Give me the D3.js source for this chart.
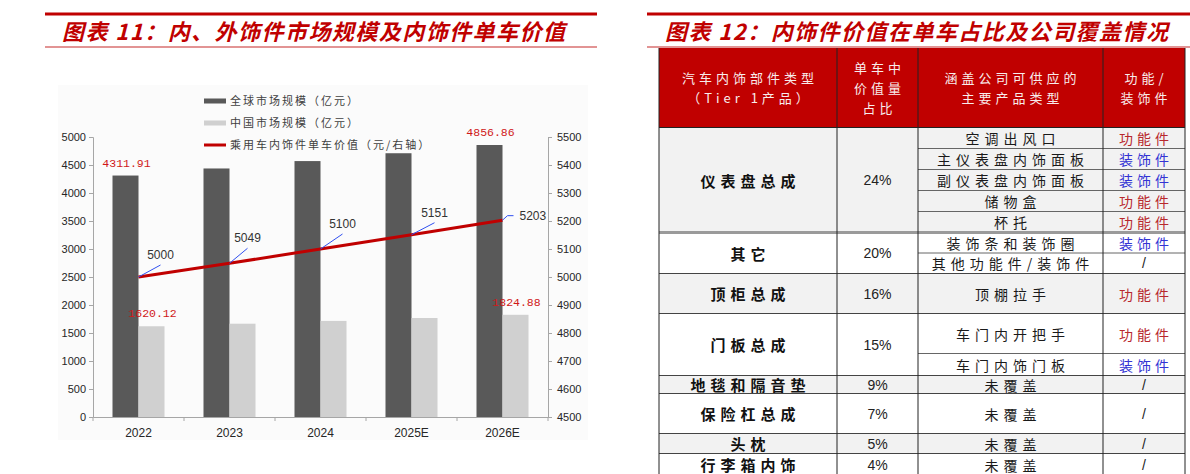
<!DOCTYPE html>
<meta charset="utf-8">
<style>
body { margin: 0; background: #fff; }
svg { display: block; }
.cjk { font-family: "Noto Sans CJK SC", sans-serif; }
.num { font-family: "Liberation Sans", Arial, sans-serif; }
.axis text { font-family: "Liberation Sans", Arial, sans-serif; font-size: 11px; fill: #262626; }
.axis--x text { font-size: 12px; }
.axis path, .axis line { stroke: #a6a6a6; stroke-width: 1px; }
.title { font-family: "Noto Sans CJK SC", sans-serif; font-weight: 700; font-style: italic; font-size: 22px; fill: #c00000; }
</style>
<svg width="1190" height="474"></svg>
<script src="https://cdn.jsdelivr.net/npm/d3@7"></script>
<script>
// ---- chart data (图表11) ----
var years = ["2022", "2023", "2024", "2025E", "2026E"];
var globalMarket = [4311.91, 4438, 4570, 4710, 4856.86];
var chinaMarket = [1620.12, 1666, 1716, 1768, 1824.88];
var unitValue = [5000, 5049, 5100, 5151, 5203];
var leftTicks = [0, 500, 1000, 1500, 2000, 2500, 3000, 3500, 4000, 4500, 5000];
var rightTicks = [4500, 4600, 4700, 4800, 4900, 5000, 5100, 5200, 5300, 5400, 5500];
var labelledYears = ["2022", "2026E"];
var legendNames = ["全球市场规模（亿元）", "中国市场规模（亿元）", "乘用车内饰件单车价值（元/右轴）"];

// ---- table data (图表12) ----
var headCols = [
  ["汽车内饰部件类型", "（Tier 1产品）"],
  ["单车中", "价值量", "占比"],
  ["涵盖公司可供应的", "主要产品类型"],
  ["功能/", "装饰件"]
];
var parts = ["仪表盘总成", "其它", "顶柜总成", "门板总成", "地毯和隔音垫", "保险杠总成", "头枕", "行李箱内饰"];
var shares = ["24%", "20%", "16%", "15%", "9%", "7%", "5%", "4%"];
var products = [
  ["空调出风口", "主仪表盘内饰面板", "副仪表盘内饰面板", "储物盒", "杯托"],
  ["装饰条和装饰圈", "其他功能件/装饰件"],
  ["顶棚拉手"],
  ["车门内开把手", "车门内饰门板"],
  ["未覆盖"], ["未覆盖"], ["未覆盖"], ["未覆盖"]
];
var kinds = [
  ["功能件", "装饰件", "装饰件", "功能件", "功能件"],
  ["装饰件", "/"],
  ["功能件"],
  ["功能件", "装饰件"],
  ["/"], ["/"], ["/"], ["/"]
];

// ---- layout ----
var subRowHeights = [[21, 21, 21, 21, 21], [20.5, 20.5], [40], [40, 22], [18], [40], [20], [22]];
var colEdges = [659, 837, 918, 1103, 1185];
var kindColor = {"功能件": "#b8282d", "装饰件": "#3434d4", "/": "#222"};

var svg = d3.select("svg");

// title bars
function titleBlock(x0, x1, tx, text) {
  svg.append("line").attr("x1", x0).attr("x2", x1).attr("y1", 14).attr("y2", 14)
      .attr("stroke", "#c00000").attr("stroke-width", 2.8);
  svg.append("line").attr("x1", x0).attr("x2", x1).attr("y1", 47).attr("y2", 47)
      .attr("stroke", "#d87070").attr("stroke-width", 1.5);
  svg.append("text").attr("class", "title").attr("x", tx).attr("y", 40)
      .attr("textLength", 503).attr("lengthAdjust", "spacing").text(text);
}
titleBlock(45, 597, 62, "图表 11：内、外饰件市场规模及内饰件单车价值");
titleBlock(647, 1190, 665, "图表 12：内饰件价值在单车占比及公司覆盖情况");

// ================= chart =================
var plot = {left: 93, right: 548, top: 137, bottom: 417};

svg.append("rect").attr("x", 58).attr("y", 85).attr("width", 530).attr("height", 355)
    .attr("fill", "#fbfbfb");

var x = d3.scaleBand().domain(years).range([plot.left, plot.right]);
var xs = d3.scaleBand().domain(["global", "china"]).range([0, x.bandwidth()])
    .paddingInner(0).paddingOuter(0.75);
var yL = d3.scaleLinear().domain([0, 5000]).range([plot.bottom, plot.top]);
var yR = d3.scaleLinear().domain([4500, 5500]).range([plot.bottom, plot.top]);

var series = [
  {key: "global", values: globalMarket, color: "#595959"},
  {key: "china", values: chinaMarket, color: "#d0d0d0"}
];

series.forEach(function(s) {
  svg.append("g").selectAll("rect")
    .data(s.values)
    .enter().append("rect")
      .attr("x", function(d, i) { return x(years[i]) + xs(s.key); })
      .attr("y", function(d) { return yL(d); })
      .attr("width", xs.bandwidth())
      .attr("height", function(d) { return yL(0) - yL(d); })
      .attr("fill", s.color);

  // red value labels on first and last year
  svg.append("g").selectAll("text")
    .data(s.values.filter(function(d, i) { return labelledYears.indexOf(years[i]) >= 0; }))
    .enter().append("text")
      .attr("x", function(d) {
        var i = s.values.indexOf(d);
        return x(years[i]) + xs(s.key) + xs.bandwidth() / 2 + 1;
      })
      .attr("y", function(d) { return yL(d) - 9; })
      .attr("text-anchor", "middle")
      .attr("font-family", "Liberation Mono, monospace")
      .attr("font-size", 11.5)
      .attr("fill", "#d01818")
      .text(function(d) { return d.toFixed(2); });
});

// axes
svg.append("g").attr("class", "axis")
    .attr("transform", "translate(" + plot.left + ",0)")
    .call(d3.axisLeft(yL).tickValues(leftTicks).tickSize(4).tickPadding(3).tickFormat(d3.format("d")));

svg.append("g").attr("class", "axis")
    .attr("transform", "translate(" + plot.right + ",0)")
    .call(d3.axisRight(yR).tickValues(rightTicks).tickSize(4).tickPadding(5).tickFormat(d3.format("d")));

var xAxis = svg.append("g").attr("class", "axis axis--x")
    .attr("transform", "translate(0," + plot.bottom + ")")
    .call(d3.axisBottom(x).tickSize(0).tickSizeOuter(0).tickPadding(11));
xAxis.selectAll(".boundary")
  .data(d3.range(years.length + 1))
  .enter().append("line")
    .attr("class", "boundary")
    .attr("x1", function(i) { return plot.left + i * x.step(); })
    .attr("x2", function(i) { return plot.left + i * x.step(); })
    .attr("y1", 0).attr("y2", 4);

// line on right axis
var line = d3.line()
    .x(function(d, i) { return x(years[i]) + x.bandwidth() / 2; })
    .y(function(d) { return yR(d); });

svg.append("path").datum(unitValue)
    .attr("d", line)
    .attr("fill", "none")
    .attr("stroke", "#c00000")
    .attr("stroke-width", 3);

// leader lines and value labels for the line
var labelOffsets = [[22, -22], [18, -25], [22, -25], [23, -22]];
var lbl = svg.append("g");
unitValue.forEach(function(v, i) {
  var px = x(years[i]) + x.bandwidth() / 2, py = yR(v);
  if (i < labelOffsets.length) {
    var o = labelOffsets[i];
    lbl.append("line").attr("x1", px).attr("y1", py).attr("x2", px + o[0]).attr("y2", py + o[1] + 10)
        .attr("stroke", "#3050f0").attr("stroke-width", 1);
    lbl.append("text").attr("class", "num").attr("x", px + o[0]).attr("y", py + o[1] + 4)
        .attr("text-anchor", "middle").attr("font-size", 12).attr("fill", "#333").text(v);
  } else {
    lbl.append("path").attr("d", "M" + px + "," + py + "l5,-4.5h6")
        .attr("fill", "none").attr("stroke", "#3050f0").attr("stroke-width", 1);
    lbl.append("text").attr("class", "num").attr("x", px + 17).attr("y", py)
        .attr("font-size", 12).attr("fill", "#333").text(v);
  }
});

// legend
var legend = svg.append("g").attr("transform", "translate(204,0)");
legendNames.forEach(function(name, i) {
  var ly = 101 + i * 22;
  if (i < 2) {
    legend.append("rect").attr("x", 0).attr("y", ly - 2.5).attr("width", 22).attr("height", 5)
        .attr("fill", series[i].color);
  } else {
    legend.append("line").attr("x1", 0).attr("x2", 22).attr("y1", ly).attr("y2", ly)
        .attr("stroke", "#c00000").attr("stroke-width", 3);
  }
  legend.append("text").attr("class", "cjk").attr("x", 26).attr("y", ly + 4)
      .attr("font-size", 11).attr("letter-spacing", 2).attr("fill", "#404040").text(name);
});

// ================= table =================
var tbl = svg.append("g");
var headTop = 48, headBottom = 127.5, tableBottom = 474;
var colMid = function(c) { return (colEdges[c] + colEdges[c + 1]) / 2; };

tbl.append("rect").attr("x", colEdges[0]).attr("y", headTop)
    .attr("width", colEdges[4] - colEdges[0]).attr("height", headBottom - headTop)
    .attr("fill", "#c00000");

headCols.forEach(function(lines, c) {
  var cy = (headTop + headBottom) / 2;
  lines.forEach(function(t, k) {
    tbl.append("text").attr("class", "cjk")
        .attr("x", colMid(c) + 2).attr("y", cy + (k - (lines.length - 1) / 2) * 20)
        .attr("dominant-baseline", "central").attr("text-anchor", "middle")
        .attr("font-size", 13).attr("letter-spacing", 4).attr("fill", "#f8ecec").text(t);
  });
});

// body rows
var y0 = headBottom;
var groupEdges = [];
parts.forEach(function(part, g) {
  var hs = subRowHeights[g];
  var total = d3.sum(hs);
  tbl.append("rect").attr("x", colEdges[0]).attr("y", y0)
      .attr("width", colEdges[4] - colEdges[0]).attr("height", total)
      .attr("fill", g % 2 === 0 ? "#f2f2f2" : "#ffffff");

  tbl.append("text").attr("class", "cjk")
      .attr("x", colMid(0) + 2.5).attr("y", y0 + total / 2)
      .attr("dominant-baseline", "central").attr("text-anchor", "middle")
      .attr("font-size", 15).attr("font-weight", 700).attr("letter-spacing", 5)
      .attr("fill", "#111").text(part);

  tbl.append("text").attr("class", "num")
      .attr("x", colMid(1)).attr("y", y0 + total / 2)
      .attr("dominant-baseline", "central").attr("text-anchor", "middle")
      .attr("font-size", 14).attr("fill", "#222").text(shares[g]);

  var sy = y0;
  products[g].forEach(function(p, k) {
    var h = hs[k];
    tbl.append("text").attr("class", "cjk")
        .attr("x", colMid(2) + 2.5).attr("y", sy + h / 2)
        .attr("dominant-baseline", "central").attr("text-anchor", "middle")
        .attr("font-size", 14).attr("letter-spacing", 5).attr("fill", "#1a1a1a").text(p);
    var kind = kinds[g][k];
    tbl.append("text").attr("class", kind === "/" ? "num" : "cjk")
        .attr("x", colMid(3) + (kind === "/" ? 0 : 2)).attr("y", sy + h / 2)
        .attr("dominant-baseline", "central").attr("text-anchor", "middle")
        .attr("font-size", 14).attr("letter-spacing", kind === "/" ? 0 : 4)
        .attr("fill", kindColor[kind]).text(kind);
    if (k > 0) {
      tbl.append("line").attr("x1", colEdges[2]).attr("x2", colEdges[4])
          .attr("y1", sy).attr("y2", sy).attr("stroke", "#666").attr("stroke-width", 1);
    }
    sy += h;
  });
  y0 += total;
  groupEdges.push(y0);
});

// group separators
groupEdges.forEach(function(gy, g) {
  tbl.append("line").attr("x1", colEdges[0]).attr("x2", colEdges[4])
      .attr("y1", gy).attr("y2", gy)
      .attr("stroke", g === 0 ? "#9a9a9a" : "#444")
      .attr("stroke-width", g === 0 ? 3 : 1);
});
tbl.append("line").attr("x1", colEdges[0]).attr("x2", colEdges[4])
    .attr("y1", headBottom).attr("y2", headBottom).attr("stroke", "#222").attr("stroke-width", 1.2);

// column borders
colEdges.forEach(function(cx) {
  tbl.append("line").attr("x1", cx).attr("x2", cx).attr("y1", headTop).attr("y2", tableBottom)
      .attr("stroke", "#222").attr("stroke-width", 1);
});
</script>
